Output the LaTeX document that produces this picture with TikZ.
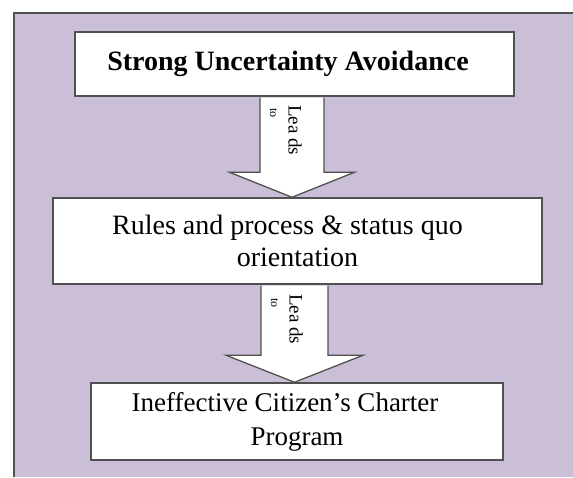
\documentclass[tikz,border=0pt]{standalone}
\usepackage{fontspec}
\setmainfont{Liberation Serif}
\usetikzlibrary{calc}
\definecolor{panel}{RGB}{203,191,216}
\definecolor{edge}{RGB}{80,80,80}
% block arrow from the bottom of one stage to the top of the next:
% #1 from, #2 to, #3 centre x, #4 half shaft width, #5 half head width, #6 head length
\newcommand\leadsarrow[6]{%
  \draw[blockarrow] let \p1=(#1.south), \p2=(#2.north) in
    (#3-#4,\y1-0.8pt) -- (#3-#4,\y2+#6pt) -- (#3-#5,\y2+#6pt) -- (#3,\y2)
    -- (#3+#5,\y2+#6pt) -- (#3+#4,\y2+#6pt) -- (#3+#4,\y1-0.8pt);
}
\begin{document}
\begin{tikzpicture}[x=1pt,y=-1pt,
  stage/.style={draw=edge,line width=1.5pt,fill=white,inner sep=0pt,align=center},
  regular/.style={font=\fontsize{28}{32}\selectfont},
  blockarrow/.style={draw=edge,line width=1.3pt,fill=white,line join=miter},
  leadlabel/.style={rotate=-90,anchor=north west,inner sep=0pt,font=\fontsize{19}{21}\selectfont},
  tolabel/.style={rotate=-90,anchor=north west,inner sep=0pt,font=\fontsize{12}{13}\selectfont}]
\useasboundingbox (0,0) rectangle (573,477);
% lavender panel, framed on its left and top sides
\fill[panel] (14,13) rectangle (573,477);
\draw[edge,line width=1.8pt] (14,477) -- (14,13) -- (573,13);

% stages
\node[stage,minimum width=439pt,minimum height=64pt,font=\bfseries\fontsize{28}{32}\selectfont]
  (b1) at (294.5,64) {Strong Uncertainty Avoidance\hspace*{13pt}};
\node[stage,regular,minimum width=489pt,minimum height=86pt]
  (b2) at (297.5,241) {Rules and process \& status quo\hspace*{20pt}\\orientation};
\node[stage,minimum width=412pt,minimum height=77pt,font=\fontsize{27}{34}\selectfont]
  (b3) at (297,421.5) {Ineffective Citizen’s Charter\hspace*{24pt}\\Program};

% connecting block arrows
\leadsarrow{b1}{b2}{292}{32}{62.5}{25}
\leadsarrow{b2}{b3}{294.5}{33.5}{68.5}{27}

% arrow labels
\node[leadlabel] (l1) at (302,105) {Lea ds};
\node[tolabel] (t1) at (277,108) {to};
\node[leadlabel] (l2) at (303,294) {Lea ds};
\node[tolabel] (t2) at (278,298) {to};
\end{tikzpicture}
\end{document}
